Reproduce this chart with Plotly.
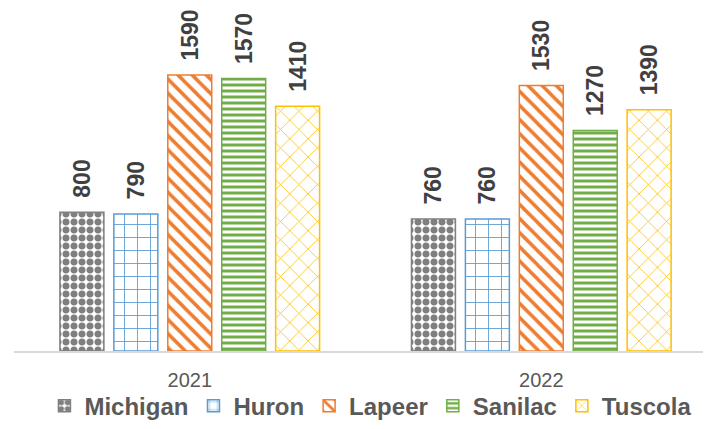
import plotly.graph_objects as go

years = ["2021", "2022"]
series_names = ["Michigan", "Huron", "Lapeer", "Sanilac", "Tuscola"]
michigan = [800, 760]
huron = [790, 760]
lapeer = [1590, 1530]
sanilac = [1570, 1270]
tuscola = [1410, 1390]

values = [michigan, huron, lapeer, sanilac, tuscola]
colors = ["#7f7f7f", "#5b9bd5", "#ed7d31", "#70ad47", "#ffc000"]
shapes = [".", "+", "\\", "-", "x"]
sizes = [8, 13, 10, 6, 13]
solid = [0.6, 0.13, 0.35, 0.5, 0.12]

fig = go.Figure()
for name, vals, c, sh, sz, so in zip(series_names, values, colors, shapes, sizes, solid):
    fig.add_trace(go.Bar(
        name=name, x=years, y=vals,
        marker=dict(color="white", line=dict(color=c, width=1.5),
                    pattern=dict(shape=sh, fgcolor=c, bgcolor="white", size=sz, solidity=so,
                                 fillmode="replace", fgopacity=1)),
        texttemplate="\u2002%{y}", textposition="outside", textangle=-90,
        textfont=dict(family="Liberation Sans", size=23, color="#404040", weight="bold"),
        constraintext="none", cliponaxis=False,
    ))

fig.update_layout(
    width=697, height=413,
    margin=dict(l=6, r=2, t=2, b=70, autoexpand=False),
    plot_bgcolor="white", paper_bgcolor="white",
    barmode="group", bargap=0.233, bargroupgap=0.185,
    showlegend=True,
    legend=dict(orientation="h", xref="container", x=0.52, xanchor="center",
                yref="container", y=0.036, yanchor="middle",
                bgcolor="rgba(0,0,0,0)",
                font=dict(family="Liberation Sans", size=24, color="#595959", weight="bold"),
                itemwidth=30, traceorder="normal"),
    xaxis=dict(type="category", range=[-0.5, 1.46], showline=True, linecolor="#d9d9d9", linewidth=1.5,
               showgrid=False, ticks="", ticklabelstandoff=10,
               tickfont=dict(family="Liberation Sans", size=20, color="#595959")),
    yaxis=dict(range=[0, 1965], visible=False, showgrid=False, zeroline=False),
)

fig.write_html("out.html")
